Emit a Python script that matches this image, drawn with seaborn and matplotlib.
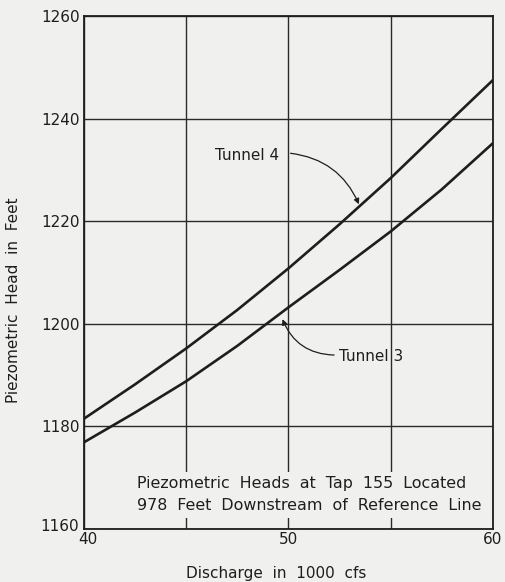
import matplotlib
matplotlib.use("Agg")
import matplotlib.pyplot as plt
import matplotlib.transforms as mtransforms
import seaborn as sns
import pandas as pd

# values
discharge = [40, 42.5, 45, 47.5, 50, 52.5, 55, 57.5, 60]
tunnel_4 = [1181.5, 1188.2, 1195.2, 1202.7, 1210.8, 1219.4, 1228.4, 1238.0, 1247.5]
tunnel_3 = [1176.9, 1182.7, 1188.8, 1195.7, 1203.2, 1210.5, 1218.0, 1226.2, 1235.2]
x_ticks = [40, 50, 60]
x_minor = [45, 55]
y_ticks = [1160, 1180, 1200, 1220, 1240, 1260]

df = pd.DataFrame(
    {
        "discharge": discharge * 2,
        "head": tunnel_4 + tunnel_3,
        "tunnel": ["Tunnel 4"] * len(discharge) + ["Tunnel 3"] * len(discharge),
    }
)

sns.set_style("white")
plt.rcParams["font.family"] = ["DejaVu Sans"]

bg = "#f0f0ee"
ink = "#1e1e1e"

fig = plt.figure(figsize=(5.05, 5.82), dpi=100, facecolor=bg)
ax = fig.add_axes([0.1663, 0.0911, 0.8097, 0.8814])
ax.set_facecolor(bg)

sns.lineplot(
    data=df,
    x="discharge",
    y="head",
    hue="tunnel",
    palette={"Tunnel 4": ink, "Tunnel 3": ink},
    linewidth=1.9,
    legend=False,
    ax=ax,
    zorder=3,
)

ax.set_xlim(40, 60)
ax.set_ylim(1160, 1260)
ax.set_xticks(x_ticks)
ax.set_xticks(x_minor, minor=True)
ax.set_yticks(y_ticks)
ax.grid(True, which="both", color="#2a2a2a", linewidth=1.0)
ax.set_axisbelow(True)
ax.tick_params(which="both", length=0, labelsize=11, colors=ink)
ax.tick_params(axis="x", pad=2)
ax.tick_params(axis="y", pad=3)
for s in ax.spines.values():
    s.set_color(ink)
    s.set_linewidth(1.3)

# corner labels sit a little apart in the original
fig.canvas.draw()
ax.get_xticklabels()[0].set_transform(
    ax.get_xticklabels()[0].get_transform()
    + mtransforms.ScaledTranslation(4 / 100, 0, fig.dpi_scale_trans))
ax.get_yticklabels()[0].set_transform(
    ax.get_yticklabels()[0].get_transform()
    + mtransforms.ScaledTranslation(-1 / 100, 4 / 100, fig.dpi_scale_trans))

ax.set_xlabel("Discharge  in  1000  cfs", fontsize=11, color=ink)
ax.set_ylabel("Piezometric  Head  in  Feet", fontsize=11, color=ink)
ax.xaxis.set_label_coords(0.47, -0.073)
ax.yaxis.set_label_coords(-0.155, 0.446)

# curve labels with leader arrows
ax.text(47.97, 1232.9, "Tunnel 4", fontsize=11, color=ink,
        ha="center", va="center")
ax.annotate("", xy=(53.5, 1222.8), xytext=(49.97, 1233.3),
            arrowprops=dict(arrowstyle="-|>", color=ink, lw=0.9,
                            mutation_scale=8,
                            connectionstyle="arc3,rad=-0.3"))
ax.text(52.45, 1193.7, "Tunnel 3", fontsize=11, color=ink,
        ha="left", va="center")
ax.annotate("", xy=(49.66, 1201.4), xytext=(52.37, 1193.9),
            arrowprops=dict(arrowstyle="-|>", color=ink, lw=0.9,
                            mutation_scale=8,
                            connectionstyle="arc3,rad=-0.35"))

ax.text(42.6, 1166.7,
        "Piezometric  Heads  at  Tap  155  Located\n978  Feet  Downstream  of  Reference  Line",
        fontsize=11.4, color=ink, ha="left", va="center", linespacing=1.55,
        zorder=4,
        bbox=dict(boxstyle="square,pad=0.3", facecolor=bg, edgecolor="none"))

fig.savefig("out.png", dpi=100, facecolor=bg)
